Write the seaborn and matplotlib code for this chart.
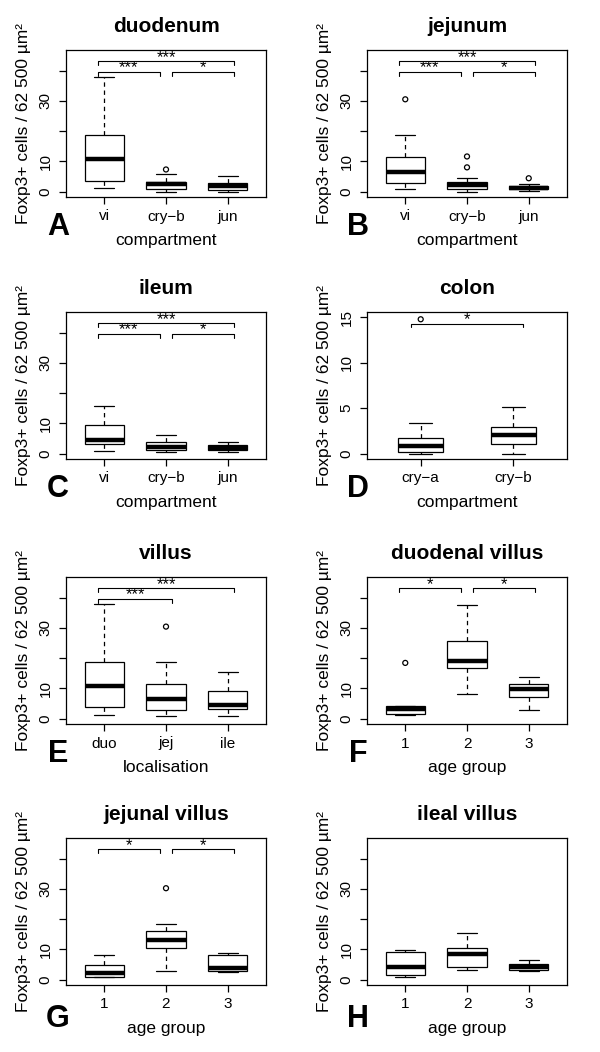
import numpy as np
import pandas as pd
import matplotlib
matplotlib.use("Agg")
import matplotlib.pyplot as plt
import seaborn as sns

# ---------------- data (five-number summaries: low whisker, Q1, median, Q3, high whisker) -------------
duodenum_groups = ["vi", "cry\u2212b", "jun"]
duodenum_summary = [[1.2, 3.6, 10.7, 18.6, 37.8], [0.0, 0.8, 2.4, 3.3, 5.7], [0.0, 0.6, 1.7, 2.7, 5.0]]
duodenum_outliers = [("cry\u2212b", 7.3)]
duodenum_sig = [(-0.1, 2.1, 43.0, "***"), (-0.1, 0.9, 39.5, "***"), (1.1, 2.1, 39.5, "*")]

jejunum_groups = ["vi", "cry\u2212b", "jun"]
jejunum_summary = [[1.0, 2.8, 6.5, 11.5, 18.7], [0.0, 0.9, 2.2, 3.3, 4.4], [0.3, 0.7, 1.2, 1.9, 2.4]]
jejunum_outliers = [("vi", 30.5), ("cry\u2212b", 11.6), ("cry\u2212b", 8.0), ("jun", 4.4)]
jejunum_sig = [(-0.1, 2.1, 43.0, "***"), (-0.1, 0.9, 39.5, "***"), (1.1, 2.1, 39.5, "*")]

ileum_groups = ["vi", "cry\u2212b", "jun"]
ileum_summary = [[0.9, 3.3, 4.5, 9.3, 15.6], [0.4, 1.3, 2.1, 3.7, 6.1], [0.6, 1.1, 2.0, 2.9, 3.9]]
ileum_outliers = []
ileum_sig = [(-0.1, 2.1, 43.0, "***"), (-0.1, 0.9, 39.5, "***"), (1.1, 2.1, 39.5, "*")]

colon_groups = ["cry\u2212a", "cry\u2212b"]
colon_summary = [[0.0, 0.22, 0.85, 1.7, 3.35], [0.0, 1.0, 2.0, 2.9, 5.1]]
colon_outliers = [("cry\u2212a", 14.8)]
colon_sig = [(-0.1, 1.1, 14.3, "*")]

villus_groups = ["duo", "jej", "ile"]
villus_summary = [[1.2, 3.8, 10.7, 18.6, 37.8], [1.0, 2.8, 6.5, 11.4, 18.6], [1.0, 3.3, 4.4, 9.2, 15.4]]
villus_outliers = [("jej", 30.4)]
villus_sig = [(-0.1, 2.1, 43.0, "***"), (-0.1, 1.1, 39.5, "***")]

duo_villus_groups = ["1", "2", "3"]
duo_villus_summary = [[1.3, 1.5, 3.2, 4.0, 4.2], [8.2, 16.6, 19.0, 25.8, 37.6], [2.8, 7.2, 9.7, 11.5, 13.9]]
duo_villus_outliers = [("1", 18.4)]
duo_villus_sig = [(-0.1, 0.9, 43.0, "*"), (1.1, 2.1, 43.0, "*")]

jej_villus_groups = ["1", "2", "3"]
jej_villus_summary = [[0.8, 1.0, 2.2, 4.9, 8.1], [2.8, 10.4, 13.1, 16.1, 18.4], [2.5, 2.7, 3.7, 8.0, 8.8]]
jej_villus_outliers = [("2", 30.2)]
jej_villus_sig = [(-0.1, 0.9, 43.0, "*"), (1.1, 2.1, 43.0, "*")]

ile_villus_groups = ["1", "2", "3"]
ile_villus_summary = [[0.9, 1.5, 4.2, 9.1, 9.9], [3.0, 4.3, 8.5, 10.3, 15.5], [2.9, 3.1, 4.0, 5.1, 6.4]]
ile_villus_outliers = []
ile_villus_sig = []

big_ticks = [0, 10, 20, 30, 40]
big_ticklabels = ["0", "10", "", "30", ""]
colon_ticks = [0, 5, 10, 15]
colon_ticklabels = ["0", "5", "10", "15"]

ylabel_text = "Foxp3+ cells / 62 500 \u00b5m\u00b2"

# ---------------- style -------------
sns.set_theme(style="ticks")
plt.rcParams["font.family"] = ["Liberation Sans", "DejaVu Sans"]
plt.rcParams.update({
    "axes.edgecolor": "black",
    "axes.linewidth": 0.9,
    "xtick.color": "black",
    "ytick.color": "black",
    "xtick.major.size": 5,
    "ytick.major.size": 5,
    "xtick.major.width": 0.9,
    "ytick.major.width": 0.9,
    "text.color": "black",
    "axes.labelcolor": "black",
})

W, H = 600, 1052
fig = plt.figure(figsize=(W / 100, H / 100), dpi=100)
col_left = [66, 367]
row_top = [50, 312, 577, 838]
ax_w, ax_h = 200, 147
letter_pos = [(58, 227), (358, 227), (58, 489), (358, 489),
              (58, 754), (358, 754), (58, 1019), (358, 1019)]

panels = [
    ("duodenum", duodenum_groups, duodenum_summary, duodenum_outliers, duodenum_sig, "compartment", "A", "big"),
    ("jejunum", jejunum_groups, jejunum_summary, jejunum_outliers, jejunum_sig, "compartment", "B", "big"),
    ("ileum", ileum_groups, ileum_summary, ileum_outliers, ileum_sig, "compartment", "C", "big"),
    ("colon", colon_groups, colon_summary, colon_outliers, colon_sig, "compartment", "D", "colon"),
    ("villus", villus_groups, villus_summary, villus_outliers, villus_sig, "localisation", "E", "big"),
    ("duodenal villus", duo_villus_groups, duo_villus_summary, duo_villus_outliers, duo_villus_sig, "age group", "F", "big"),
    ("jejunal villus", jej_villus_groups, jej_villus_summary, jej_villus_outliers, jej_villus_sig, "age group", "G", "big"),
    ("ileal villus", ile_villus_groups, ile_villus_summary, ile_villus_outliers, ile_villus_sig, "age group", "H", "big"),
]

for k, (title, groups, summ, outs, sigs, xlabel, letter, scale) in enumerate(panels):
    r, c = divmod(k, 2)
    left, top = col_left[c], row_top[r]
    ax = fig.add_axes([left / W, 1 - (top + ax_h) / H, ax_w / W, ax_h / H])

    df = pd.DataFrame({"group": np.repeat(groups, 5), "value": np.concatenate(summ)})
    n = len(groups)
    width = 0.64 if n == 3 else 0.49
    sns.boxplot(data=df, x="group", y="value", order=groups, whis=(0, 100), width=width,
                color="white", linecolor="black", linewidth=0.9, showfliers=False,
                medianprops=dict(linewidth=3.2, solid_capstyle="butt"),
                whiskerprops=dict(linestyle=(0, (3.5, 3))),
                ax=ax)
    if outs:
        odf = pd.DataFrame(outs, columns=["group", "value"])
        sns.stripplot(data=odf, x="group", y="value", order=groups, jitter=False, size=3.6,
                      color="black", facecolors="none", edgecolor="black", linewidth=0.9,
                      ax=ax, zorder=5)

    span = n
    ax.set_xlim(-0.5 - 0.04 * span, n - 0.5 + 0.04 * span)
    if scale == "big":
        ymin, ymax = 0, 45
        ax.set_yticks(big_ticks)
        ax.set_yticklabels(big_ticklabels)
    else:
        ymin, ymax = 0, 15
        ax.set_yticks(colon_ticks)
        ax.set_yticklabels(colon_ticklabels)
    rng = ymax - ymin
    ax.set_ylim(ymin - 0.04 * rng, ymax + 0.04 * rng)

    # significance brackets
    d = 0.027 * rng
    for x1, x2, y, lab in sigs:
        ax.plot([x1, x1, x2, x2], [y - d, y, y, y - d], color="black", lw=0.8, zorder=4)
        ax.annotate(lab, xy=((x1 + x2) / 2, y), xytext=(0, -0.3), textcoords="offset points",
                    ha="center", va="baseline", fontsize=12)

    ax.tick_params(axis="y", labelrotation=90, labelsize=11, pad=4.5)
    ax.tick_params(axis="x", labelsize=11, pad=4)
    for t in ax.get_yticklabels():
        t.set_va("center")
    ax.set_xlabel(xlabel, fontsize=12.5)
    ax.set_ylabel(ylabel_text, fontsize=12.5)
    ax.yaxis.set_label_coords(-0.175, 0.5)
    ax.xaxis.set_label_coords(0.5, -0.245)
    ax.set_title(title, fontsize=15, fontweight="bold", pad=13)
    for sp in ax.spines.values():
        sp.set_visible(True)
        sp.set_color("black")

    lx, ly = letter_pos[k]
    fig.text(lx / W, 1 - ly / H, letter, fontsize=22, fontweight="bold", ha="center", va="center")

fig.savefig("out.png", dpi=100)
